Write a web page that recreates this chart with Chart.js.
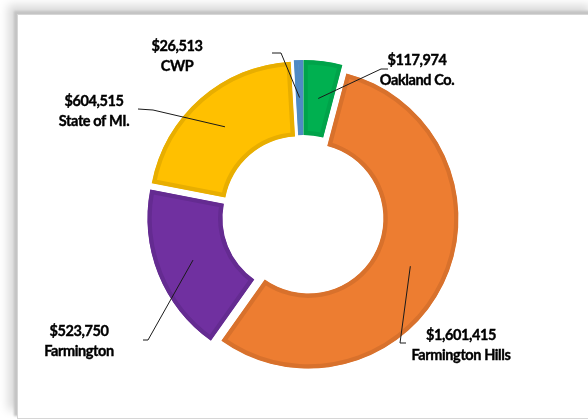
<!DOCTYPE html>
<html>
<head>
<meta charset="utf-8">
<script src="https://cdn.jsdelivr.net/npm/chart.js@4"></script>
<style>
  html, body { margin: 0; padding: 0; background: #fff; }
  #frame {
    position: absolute; left: 17px; top: 14px; width: 580px; height: 403px;
    background: #fff; border: 1px solid #d6d6d6;
    box-shadow: -3px -3px 2px #c4c4c4, -9px -9px 9px #dadada;
  }
  #wrap { position: absolute; left: 0; top: 0; width: 588px; height: 419px; }
</style>
</head>
<body>
<div id="frame"></div>
<div id="wrap"><canvas id="fundingChart"></canvas></div>
<script>
var categories = ['Oakland Co.', 'Farmington Hills', 'Farmington', 'State of MI.', 'CWP'];
var amounts = [117974, 1601415, 523750, 604515, 26513];
var fillColors = ['#00B050', '#ED7D31', '#7030A0', '#FFC000', '#5B9BD5'];
var edgeColors = ['#00A34A', '#D8712C', '#642B91', '#E8AE00', '#4F8AC4'];

// label centres, leader knees and leader tails (layout only)
var labelPos = [[417, 70], [461, 345], [79, 341], [94, 111], [177, 56]];
var kneePos = [[381, 69], [400, 343], [148, 340], [153, 110], [281, 53]];
var tailPos = [[388, 69], [406, 343], [143, 340], [138, 109], [272, 53]];

var explode = 6;

// push every slice out from the centre along its middle angle
var explodePlugin = {
    id: 'explode',
    beforeDatasetsDraw: function (chart) {
        var area = chart.chartArea;
        var cx = (area.left + area.right) / 2;
        var cy = (area.top + area.bottom) / 2;
        chart.getDatasetMeta(0).data.forEach(function (arc) {
            var mid = (arc.startAngle + arc.endAngle) / 2;
            arc.x = cx + Math.cos(mid) * explode;
            arc.y = cy + Math.sin(mid) * explode;
        });
    }
};

var leaderPlugin = {
    id: 'leaders',
    afterDraw: function (chart) {
        var ctx = chart.ctx;
        var arcs = chart.getDatasetMeta(0).data;
        ctx.save();
        arcs.forEach(function (arc, i) {
            var mid = (arc.startAngle + arc.endAngle) / 2;
            var r = (arc.innerRadius + arc.outerRadius) / 2;
            var px = arc.x + Math.cos(mid) * r;
            var py = arc.y + Math.sin(mid) * r;
            ctx.strokeStyle = '#1a1a1a';
            ctx.lineWidth = 1;
            ctx.beginPath();
            ctx.moveTo(px, py);
            ctx.lineTo(kneePos[i][0], kneePos[i][1]);
            ctx.lineTo(tailPos[i][0], tailPos[i][1]);
            ctx.stroke();

            ctx.fillStyle = '#000';
            ctx.strokeStyle = '#000';
            ctx.lineWidth = 0.4;
            ctx.font = 'bold 14.5px Lato';
            ctx.letterSpacing = '-0.4px';
            ctx.textAlign = 'center';
            ctx.textBaseline = 'middle';
            var top = '$' + amounts[i].toLocaleString('en-US');
            ctx.fillText(top, labelPos[i][0], labelPos[i][1] - 10);
            ctx.strokeText(top, labelPos[i][0], labelPos[i][1] - 10);
            ctx.fillText(categories[i], labelPos[i][0], labelPos[i][1] + 10);
            ctx.strokeText(categories[i], labelPos[i][0], labelPos[i][1] + 10);
        });
        ctx.restore();
    }
};

var ctx = document.getElementById('fundingChart').getContext('2d');

var fundingChart = new Chart(ctx, {
    type: 'doughnut',
    data: {
        labels: categories,
        datasets: [{
            data: amounts,
            backgroundColor: fillColors,
            borderColor: edgeColors,
            borderWidth: 4,
            borderAlign: 'inner',
            borderJoinStyle: 'miter'
        }]
    },
    options: {
        responsive: true,
        maintainAspectRatio: false,
        animation: false,
        radius: 150,
        cutout: '50%',
        layout: {
            padding: { left: 18, right: 0, top: 13, bottom: 0 }
        },
        plugins: {
            legend: { display: false },
            tooltip: { enabled: false }
        }
    },
    plugins: [explodePlugin, leaderPlugin]
});
</script>
</body>
</html>
